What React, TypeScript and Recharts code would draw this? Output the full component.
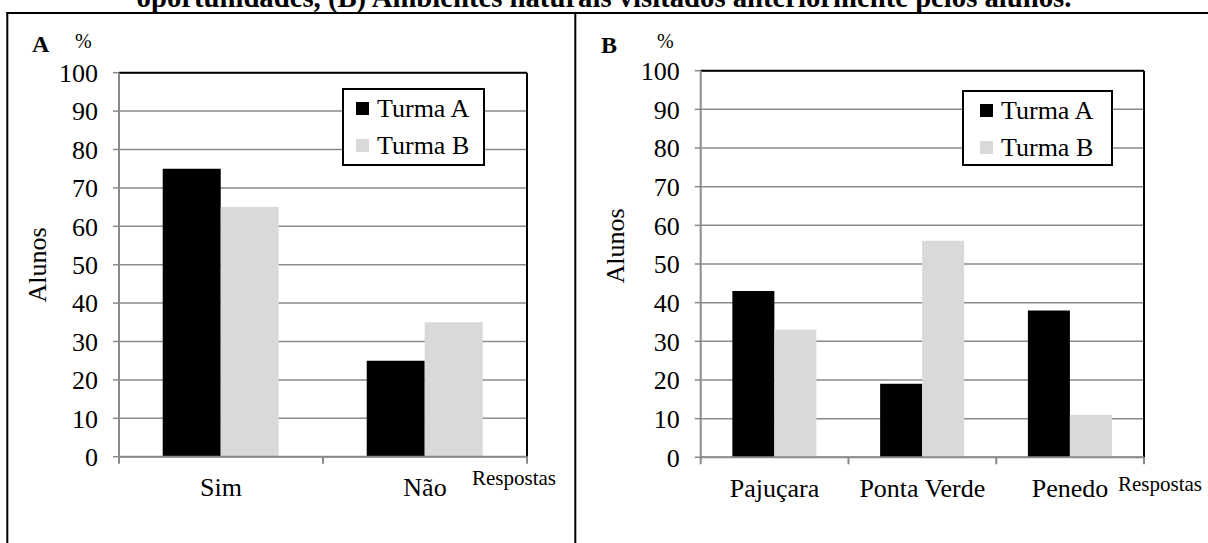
import React from 'react';
import { BarChart, Bar, XAxis, YAxis, CartesianGrid, ReferenceLine, Legend } from 'recharts';

const FONT = "'Liberation Serif', 'Times New Roman', serif";
const GRID_GRAY = '#8a8a8a';
const LIGHT_GRAY = '#d9d9d9';

// Panel A: answers of both classes
const answerLabels = ['Sim', 'Não'];
const answerTurmaA = [75, 25];
const answerTurmaB = [65, 35];

// Panel B: natural environments visited before
const placeLabels = ['Pajuçara', 'Ponta Verde', 'Penedo'];
const placeTurmaA = [43, 19, 38];
const placeTurmaB = [33, 56, 11];

const percentTicks = [0, 10, 20, 30, 40, 50, 60, 70, 80, 90, 100];
const seriesNames = ['Turma A', 'Turma B'];
const seriesColors = ['#000000', LIGHT_GRAY];

const titleText = 'oportunidades, (B) Ambientes naturais visitados anteriormente pelos alunos.';

type Margin = { top: number; right: number; bottom: number; left: number };
type LegendPlace = { left: number; top: number; width: number; height: number; padLeft: number };

type PanelProps = {
  labels: string[];
  a: number[];
  b: number[];
  x: number;
  width: number;
  height: number;
  margin: Margin;
  yAxisWidth: number;
  legend: LegendPlace;
};

// Bottom axis tick: integer positions are category boundaries (tick marks),
// half positions are category centres (labels).
function EdgeTick(props: any) {
  const { x, y, payload, labels } = props;
  const v = payload.value as number;
  if (Number.isInteger(v)) {
    return <line x1={x} x2={x} y1={y} y2={y + 7} stroke={GRID_GRAY} strokeWidth={2} />;
  }
  const label = labels[Math.floor(v)];
  return (
    <text x={x} y={y + 39.5} textAnchor="middle" fontFamily={FONT} fontSize={26} fill="#000">
      {label}
    </text>
  );
}

function LegendBox(props: any) {
  const { payload, place } = props;
  return (
    <div
      style={{
        boxSizing: 'border-box',
        width: place.width,
        height: place.height,
        border: '2px solid #000',
        background: '#fff',
        paddingLeft: place.padLeft,
        fontFamily: FONT,
        fontSize: 26,
        color: '#000',
      }}
    >
      {(payload || []).map((entry: any) => (
        <div key={entry.value} style={{ display: 'flex', alignItems: 'center', height: 37, lineHeight: '37px' }}>
          <span style={{ display: 'inline-block', width: 13, height: 13, background: entry.color, marginRight: 8 }} />
          <span>{entry.value}</span>
        </div>
      ))}
    </div>
  );
}

const baseValue = () => 0;

function Panel(p: PanelProps) {
  const n = p.labels.length;
  const rows = p.labels.map((name, i) => ({ name, a: p.a[i], b: p.b[i] }));
  const edgeTicks: number[] = [];
  for (let i = 0; i <= n; i++) {
    edgeTicks.push(i);
    if (i < n) edgeTicks.push(i + 0.5);
  }
  return (
    <div style={{ position: 'absolute', left: p.x, top: 0 }}>
      <BarChart
        width={p.width}
        height={p.height}
        data={rows}
        margin={p.margin}
        barCategoryGap="21.43%"
        barGap={0}
      >
        <CartesianGrid xAxisId="cat" vertical={false} stroke={GRID_GRAY} strokeWidth={1.5} />
        <XAxis xAxisId="cat" dataKey="name" hide height={0} />
        <XAxis
          xAxisId="pos"
          type="number"
          scale="linear"
          dataKey={baseValue}
          domain={[0, n]}
          ticks={edgeTicks}
          interval={0}
          allowDataOverflow
          tickSize={0}
          tickMargin={0}
          tickLine={false}
          height={40}
          axisLine={{ stroke: GRID_GRAY, strokeWidth: 2 }}
          tick={(tp: any) => <EdgeTick {...tp} labels={p.labels} />}
        />
        <YAxis
          domain={[0, 100]}
          ticks={percentTicks}
          interval={0}
          width={p.yAxisWidth}
          tickSize={6}
          tickMargin={15}
          axisLine={{ stroke: GRID_GRAY, strokeWidth: 2 }}
          tickLine={{ stroke: GRID_GRAY, strokeWidth: 1.5 }}
          tick={{ fontFamily: FONT, fontSize: 26, fill: '#000' }}
        />
        <ReferenceLine xAxisId="pos" y={100} stroke="#000" strokeWidth={2} />
        <ReferenceLine xAxisId="pos" x={n} stroke="#000" strokeWidth={2} />
        <Bar xAxisId="cat" dataKey="a" name={seriesNames[0]} fill={seriesColors[0]} isAnimationActive={false} />
        <Bar xAxisId="cat" dataKey="b" name={seriesNames[1]} fill={seriesColors[1]} isAnimationActive={false} />
        <Legend
          layout="vertical"
          verticalAlign="middle"
          align="center"
          wrapperStyle={{ left: p.legend.left, top: p.legend.top, width: 'auto', height: 'auto' }}
          content={(lp: any) => <LegendBox {...lp} place={p.legend} />}
        />
      </BarChart>
    </div>
  );
}

export default function App() {
  return (
    <div style={{ position: 'absolute', left: 0, top: 0, width: 1208, height: 543, background: '#fff', overflow: 'hidden' }}>
      <svg width={1208} height={543} style={{ position: 'absolute', left: 0, top: 0 }}>
        <text x={604} y={7} textAnchor="middle" fontFamily={FONT} fontWeight="bold" fontSize={28.7} fill="#000">
          {titleText}
        </text>
        {/* figure frame */}
        <line x1={6.3} x2={1212} y1={13} y2={13} stroke="#000" strokeWidth={2} />
        <line x1={7.3} x2={7.3} y1={12} y2={548} stroke="#000" strokeWidth={2} />
        <line x1={575.3} x2={575.3} y1={12} y2={548} stroke="#000" strokeWidth={2} />

        {/* panel A annotations */}
        <text x={32} y={52} fontFamily={FONT} fontWeight="bold" fontSize={24} fill="#000">A</text>
        <text x={75} y={48} fontFamily={FONT} fontSize={20} fill="#000">%</text>
        <text transform="translate(46,265) rotate(-90)" textAnchor="middle" fontFamily={FONT} fontSize={26} fill="#000">Alunos</text>
        <text x={472} y={485} fontFamily={FONT} fontSize={21} fill="#000">Respostas</text>

        {/* panel B annotations */}
        <text x={601} y={53} fontFamily={FONT} fontWeight="bold" fontSize={24} fill="#000">B</text>
        <text x={657} y={48} fontFamily={FONT} fontSize={20} fill="#000">%</text>
        <text transform="translate(624,246) rotate(-90)" textAnchor="middle" fontFamily={FONT} fontSize={26} fill="#000">Alunos</text>
        <text x={1118} y={491} fontFamily={FONT} fontSize={21} fill="#000">Respostas</text>
      </svg>

      <Panel
        labels={answerLabels}
        a={answerTurmaA}
        b={answerTurmaB}
        x={0}
        width={575}
        height={543}
        margin={{ top: 72.7, right: 48, bottom: 46.3, left: 0 }}
        yAxisWidth={119}
        legend={{ left: 342, top: 87.7, width: 143, height: 78, padLeft: 12 }}
      />
      <Panel
        labels={placeLabels}
        a={placeTurmaA}
        b={placeTurmaB}
        x={575}
        width={633}
        height={543}
        margin={{ top: 70.7, right: 64, bottom: 45.7, left: 0 }}
        yAxisWidth={125.7}
        legend={{ left: 387, top: 89.5, width: 151, height: 76.5, padLeft: 16 }}
      />
    </div>
  );
}
